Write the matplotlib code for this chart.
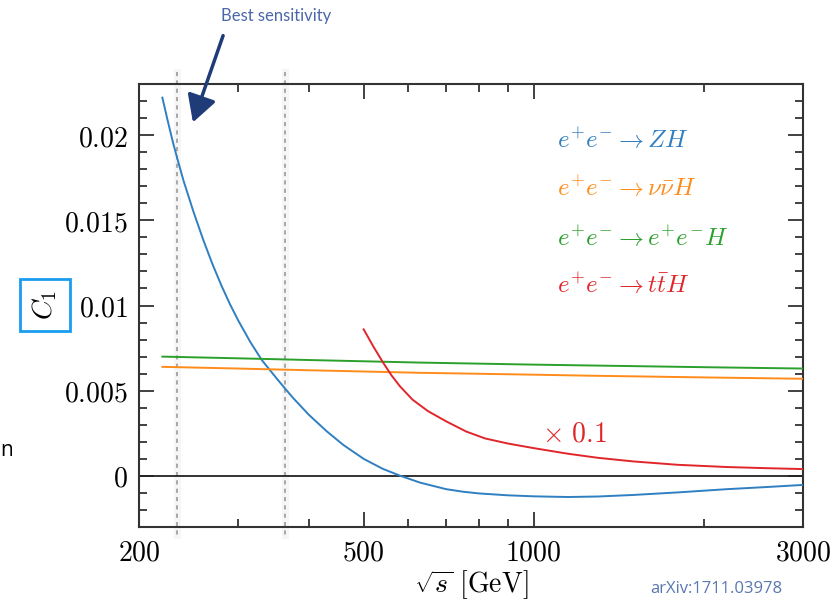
import matplotlib
matplotlib.use("Agg")
import matplotlib.pyplot as plt
from matplotlib.transforms import blended_transform_factory
from matplotlib.ticker import FixedLocator, NullFormatter

plt.rcParams['mathtext.fontset'] = 'cm'
plt.rcParams['font.family'] = ['DejaVu Sans']

# ---- data ----
zh_x = [220, 225, 230, 235, 240, 250, 260, 270, 280, 290, 300, 315, 330, 350, 363, 375, 400,
        430, 460, 500, 540, 580, 630, 700, 750, 800, 900, 1000, 1150, 1300, 1500, 1800, 2200,
        2600, 3000]
zh_y = [0.0222, 0.0208, 0.0195, 0.01836, 0.01729, 0.01546, 0.01384, 0.01241, 0.01116, 0.01006,
        0.0091, 0.00785, 0.0068, 0.00575, 0.00512, 0.00457, 0.00358, 0.00262, 0.00182, 0.0010,
        0.00042, 0.00001, -0.0004, -0.00078, -0.00093, -0.00103, -0.00114, -0.0012, -0.00124,
        -0.00121, -0.00112, -0.00097, -0.00078, -0.00065, -0.00053]

nn_x = [220, 300, 400, 629, 1000, 1258, 2000, 3000]
nn_y = [0.0064, 0.0063, 0.0062, 0.00605, 0.00594, 0.00588, 0.00578, 0.0057]

ee_x = [220, 300, 400, 629, 1000, 1258, 2000, 3000]
ee_y = [0.0070, 0.0069, 0.0068, 0.00665, 0.00653, 0.00648, 0.00638, 0.0063]

tt_x = [500, 520, 540, 560, 580, 610, 650, 700, 760, 820, 900, 1000, 1150, 1300, 1500,
        1800, 2200, 2600, 3000]
tt_y = [0.0086, 0.0076, 0.0067, 0.0059, 0.00525, 0.00448, 0.0038, 0.0032, 0.0026, 0.0022,
        0.0019, 0.00163, 0.0013, 0.00106, 0.00085, 0.00065, 0.00052, 0.00045, 0.0004]

vlines_x = [234, 363]

x_major = [200, 500, 1000, 3000]
x_major_labels = ['200', '500', '1000', '3000']
x_minor = [300, 400, 600, 700, 800, 900, 2000]
y_major = [0, 0.005, 0.01, 0.015, 0.02]
y_major_labels = ['0', '0.005', '0.01', '0.015', '0.02']

legend_labels = [r'$e^{+}e^{-}\rightarrow ZH$', r'$e^{+}e^{-}\rightarrow \nu\bar{\nu}H$',
                 r'$e^{+}e^{-}\rightarrow e^{+}e^{-}H$', r'$e^{+}e^{-}\rightarrow t\bar{t}H$']
colors = ['#2f7fc1', '#ff8c1a', '#2ca02c', '#e0262a']

W, H = 837, 604
fig = plt.figure(figsize=(W / 100, H / 100), dpi=100)
ax = fig.add_axes([139 / W, 1 - 527 / H, (803 - 139) / W, (527 - 84) / H])

ax.set_xscale('log')
ax.set_xlim(200, 3000)
ax.set_ylim(-0.003, 0.023)

ax.axhline(0, color='#222222', lw=1.3, zorder=2)

ax.plot(zh_x, zh_y, color=colors[0], lw=1.4, zorder=3)
ax.plot(nn_x, nn_y, color=colors[1], lw=1.4, zorder=3)
ax.plot(ee_x, ee_y, color=colors[2], lw=1.4, zorder=3)
ax.plot(tt_x, tt_y, color=colors[3], lw=1.4, zorder=3)

# ticks
ax.xaxis.set_major_locator(FixedLocator(x_major))
ax.xaxis.set_minor_locator(FixedLocator(x_minor))
ax.set_xticklabels([r'$%s$' % s for s in x_major_labels])
ax.xaxis.set_minor_formatter(NullFormatter())
ax.yaxis.set_major_locator(FixedLocator(y_major))
ax.yaxis.set_minor_locator(FixedLocator([i * 0.001 for i in range(-3, 24)]))
ax.set_yticklabels([r'$%s$' % s for s in y_major_labels])
ax.tick_params(which='both', direction='in', top=True, right=True, color='#333333', width=1.3)
ax.tick_params(which='major', length=11, labelsize=20, pad=8)
ax.tick_params(which='minor', length=6)
for sp in ax.spines.values():
    sp.set_linewidth(1.5)
    sp.set_color('#333333')

ax.set_xlabel(r'$\sqrt{s}\ [\mathrm{GeV}]$', fontsize=20, labelpad=2)

# legend-like labels
ly = [140, 188, 238, 285]
for lab, c, y in zip(legend_labels, colors, ly):
    fig.text(557 / W, 1 - y / H, lab, color=c, fontsize=18, ha='left', va='center')

fig.text(542 / W, 1 - 433 / H, r'$\times\ 0.1$', color=colors[3], fontsize=20, ha='left', va='center')

# vertical dashed lines (overlay)
tr = blended_transform_factory(ax.transData, fig.transFigure)
for vx in vlines_x:
    ax.plot([vx, vx], [1 - 72 / H, 1 - 535 / H], transform=tr, color='#f6f6f6', lw=5, clip_on=False, zorder=1)
    ax.plot([vx, vx], [1 - 72 / H, 1 - 535 / H], transform=tr, color='#9a9a9a', lw=1.2,
            ls=(0, (2.5, 2.5)), clip_on=False, zorder=1.5)

# boxed y-label
fig.text(45 / W, 1 - 305 / H, r'$C_1$', fontsize=20, rotation=90, ha='center', va='center',
         bbox=dict(boxstyle='square,pad=0.38', fc='white', ec='#1a9cf0', lw=2))

# annotation
fig.text(276 / W, 1 - 16 / H, 'Best sensitivity', color='#4a68a8', fontsize=12,
         ha='center', va='center', family=['Lato', 'DejaVu Sans'])
fig.patches.append(matplotlib.patches.FancyArrowPatch(
    (224 / W, 1 - 33 / H), (192 / W, 1 - 125 / H), transform=fig.transFigure,
    arrowstyle='-|>,head_length=0.9,head_width=0.5', mutation_scale=18,
    color='#1f3c78', lw=2.5))

fig.text(716 / W, 1 - 589 / H, 'arXiv:1711.03978', color='#5a78b0', fontsize=12,
         ha='center', va='center', family=['Open Sans', 'DejaVu Sans'])

fig.text(0 / W, 1 - 450 / H, 'n', color='black', fontsize=15, ha='left', va='center',
         family=['Open Sans', 'DejaVu Sans'])

fig.savefig('out.png', dpi=100)
